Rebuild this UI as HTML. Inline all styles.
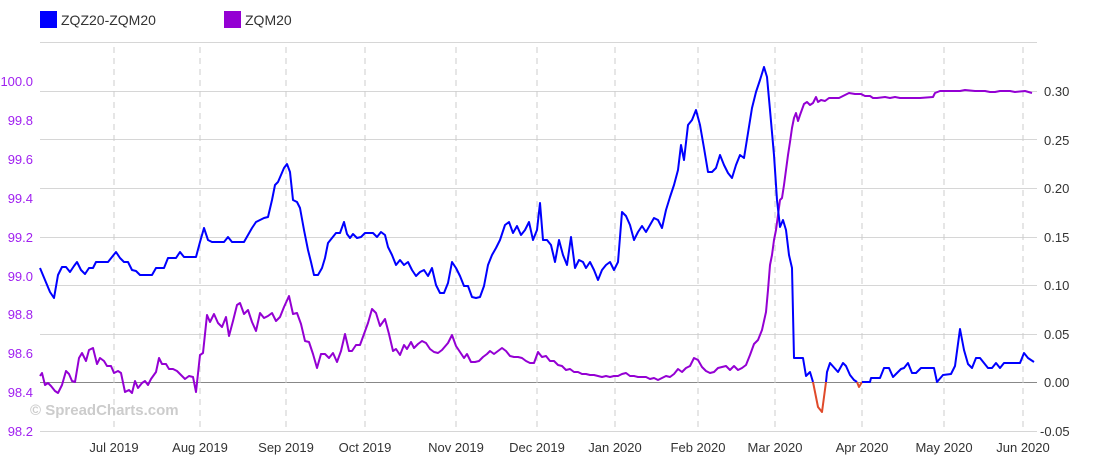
<!DOCTYPE html>
<html><head><meta charset="utf-8"><style>
body{margin:0;background:#fff;font-family:"Liberation Sans",sans-serif;}
</style></head><body>
<svg width="1120" height="468" xmlns="http://www.w3.org/2000/svg" font-family="Liberation Sans, sans-serif">
<rect width="1120" height="468" fill="#fff"/>
<rect x="40" y="11" width="17" height="17" fill="#0000ff"/>
<text x="61" y="25" font-size="14" fill="#333">ZQZ20-ZQM20</text>
<rect x="224" y="11" width="17" height="17" fill="#9400d3"/>
<text x="245" y="25" font-size="14" fill="#333">ZQM20</text>
<g stroke="#d6d6d6" stroke-width="1">
<line x1="40" y1="42.5" x2="1037" y2="42.5"/><line x1="40" y1="91.5" x2="1037" y2="91.5"/>
<line x1="40" y1="139.5" x2="1037" y2="139.5"/><line x1="40" y1="188.5" x2="1037" y2="188.5"/>
<line x1="40" y1="237.5" x2="1037" y2="237.5"/><line x1="40" y1="285.5" x2="1037" y2="285.5"/>
<line x1="40" y1="334.5" x2="1037" y2="334.5"/><line x1="40" y1="431.5" x2="1037" y2="431.5"/>
</g>
<line x1="40" y1="382.5" x2="1037" y2="382.5" stroke="#888" stroke-width="1"/>
<g stroke="#ccc" stroke-dasharray="6,5">
<line x1="114" y1="47" x2="114" y2="431"/><line x1="200" y1="47" x2="200" y2="431"/>
<line x1="286" y1="47" x2="286" y2="431"/><line x1="365" y1="47" x2="365" y2="431"/>
<line x1="456" y1="47" x2="456" y2="431"/><line x1="537" y1="47" x2="537" y2="431"/>
<line x1="615" y1="47" x2="615" y2="431"/><line x1="698" y1="47" x2="698" y2="431"/>
<line x1="775" y1="47" x2="775" y2="431"/><line x1="862" y1="47" x2="862" y2="431"/>
<line x1="944" y1="47" x2="944" y2="431"/><line x1="1023" y1="47" x2="1023" y2="431"/>
</g>
<text x="30" y="415" font-size="15" font-weight="bold" fill="#ccc">© SpreadCharts.com</text>
<g font-size="13" fill="#a020f0" text-anchor="end">
<text x="33" y="86">100.0</text><text x="33" y="125">99.8</text><text x="33" y="164">99.6</text>
<text x="33" y="203">99.4</text><text x="33" y="242">99.2</text><text x="33" y="281">99.0</text>
<text x="33" y="319">98.8</text><text x="33" y="358">98.6</text><text x="33" y="397">98.4</text>
<text x="33" y="436">98.2</text>
</g>
<g font-size="13" fill="#333">
<text x="1044" y="96">0.30</text><text x="1044" y="145">0.25</text><text x="1044" y="193">0.20</text>
<text x="1044" y="242">0.15</text><text x="1044" y="290">0.10</text><text x="1044" y="339">0.05</text>
<text x="1044" y="387">0.00</text><text x="1040" y="436">-0.05</text>
</g>
<g font-size="13" fill="#333" text-anchor="middle">
<text x="114" y="452">Jul 2019</text><text x="200" y="452">Aug 2019</text><text x="286" y="452">Sep 2019</text>
<text x="365" y="452">Oct 2019</text><text x="456" y="452">Nov 2019</text><text x="537" y="452">Dec 2019</text>
<text x="615" y="452">Jan 2020</text><text x="698" y="452">Feb 2020</text><text x="775" y="452">Mar 2020</text>
<text x="862" y="452">Apr 2020</text><text x="944" y="452">May 2020</text><text x="1023" y="452">Jun 2020</text>
</g>
<polyline fill="none" stroke="#9400d3" stroke-width="2" stroke-linejoin="round" points="40,376 42,373 45,385 48,383 51,386 55,391 58,393 62,385 66,371 69,374 72,381 75,382 79,358 82,353 86,361 89,350 93,348 97,364 100,358 104,361 107,366 111,366 114,373 118,371 121,373 125,392 129,390 132,393 135,381 138,388 142,383 145,381 148,385 151,379 156,372 159,358 162,364 166,364 169,369 173,369 177,371 181,375 185,379 189,376 193,377 196,392 200,355 203,353 207,315 210,322 214,314 218,323 222,327 226,317 229,336 233,321 237,305 240,303 244,314 248,310 252,322 256,331 260,313 264,318 268,316 272,313 276,321 280,317 284,307 289,296 293,314 297,313 301,324 305,341 309,342 313,354 317,368 321,354 325,354 329,358 333,353 337,362 341,351 345,334 349,351 352,351 356,345 360,345 364,334 368,323 372,309 376,313 380,326 385,319 389,334 393,351 396,349 400,355 404,345 407,349 411,342 414,348 418,344 422,341 426,343 430,349 434,352 438,353 442,350 448,343 452,335 456,346 460,352 464,358 467,354 471,362 475,362 479,361 483,357 487,354 490,351 494,354 498,351 502,348 506,351 510,356 514,357 518,357 522,358 526,361 530,363 534,363 538,352 542,357 546,356 550,361 554,361 558,365 562,366 566,370 570,369 574,372 578,372 582,374 586,374 590,375 594,375 598,376 602,377 606,376 610,377 614,376 618,376 622,374 626,373 630,376 634,376 638,377 642,377 646,377 650,379 654,378 658,380 662,378 666,376 670,377 674,374 678,369 682,372 686,368 690,366 694,358 698,360 702,367 706,371 710,373 714,372 718,368 722,367 726,366 730,370 734,366 738,370 742,368 746,365 750,355 754,344 758,340 762,330 766,312 768,290 770,265 772,255 774,240 776,230 778,215 780,200 782,198 784,185 786,170 788,155 790,142 792,128 794,118 796,113 798,121 800,115 804,104 807,102 810,105 813,103 816,97 818,102 821,100 825,101 829,98 833,98 839,98 845,95 849,93 855,94 861,94 865,96 870,96 873,98 877,98 885,97 890,98 895,97 900,98 920,98 933,97 935,93 940,91 945,91 960,91 965,90 975,91 985,91 990,92 995,92 1000,91 1010,91 1015,92 1025,91 1032,93"/>
<polyline fill="none" stroke="#0000ff" stroke-width="2" stroke-linejoin="round" points="40,268 45,280 50,292 54,298 58,275 62,267 66,267 70,272 74,266 77,262 81,270 85,274 89,268 93,268 96,262 100,262 104,262 108,262 112,257 116,252 120,258 124,262 128,262 132,270 136,271 140,275 144,275 148,275 152,275 156,268 160,268 164,268 168,258 172,258 176,258 180,252 184,257 188,257 192,257 196,257 200,242 204,228 208,240 212,242 216,242 220,242 224,242 228,237 232,242 236,242 240,242 244,242 248,235 252,228 256,222 260,220 264,218 268,217 272,200 275,185 278,182 281,175 284,168 287,164 290,172 293,200 297,202 300,208 304,230 308,250 311,262 314,275 318,275 322,268 325,258 328,243 332,238 336,233 340,233 344,222 347,234 350,238 353,234 357,238 361,237 365,233 369,233 373,233 377,237 381,232 385,235 388,247 392,255 396,265 400,260 404,265 408,262 412,270 416,276 420,272 424,270 428,276 432,268 436,285 440,293 444,293 448,283 452,262 456,268 460,276 464,286 468,286 472,297 476,298 480,297 484,286 488,265 492,255 496,248 500,240 505,225 509,222 513,233 517,226 521,235 525,230 529,222 533,240 537,230 540,203 543,240 547,240 551,245 555,262 559,240 563,255 567,265 571,237 575,268 579,260 583,262 586,268 590,262 594,270 598,280 602,270 606,265 610,262 614,270 618,262 622,212 626,216 630,225 634,240 638,232 642,226 646,232 650,225 654,218 658,220 662,228 666,210 670,197 674,185 678,170 681,145 684,160 688,125 692,120 696,110 700,125 704,148 708,172 712,172 716,168 720,155 724,165 728,173 732,178 736,165 740,155 744,158 748,133 752,108 756,92 760,80 764,67 767,77 770,110 774,155 777,200 780,227 783,220 786,230 789,255 792,268 794,358 798,358 803,358 806,376 810,372 813,382"/>
<polyline fill="none" stroke="#e04a2a" stroke-width="2" stroke-linejoin="round" points="813,382 818,407 822,412 826,382"/>
<polyline fill="none" stroke="#0000ff" stroke-width="2" stroke-linejoin="round" points="826,382 827,372 830,363 838,372 843,363 846,366 850,375 854,380 857,382"/>
<polyline fill="none" stroke="#e04a2a" stroke-width="2" stroke-linejoin="round" points="857,382 859,387 862,382"/>
<polyline fill="none" stroke="#0000ff" stroke-width="2" stroke-linejoin="round" points="862,382 870,382 871,378 880,378 884,368 889,368 893,377 901,369 904,368 908,363 912,373 916,373 921,368 934,368 937,382 943,375 951,374 955,366 960,329 964,350 968,364 972,368 976,358 980,358 988,368 992,368 996,363 1000,368 1004,363 1020,363 1024,353 1028,358 1034,362"/>
</svg>
</body></html>
